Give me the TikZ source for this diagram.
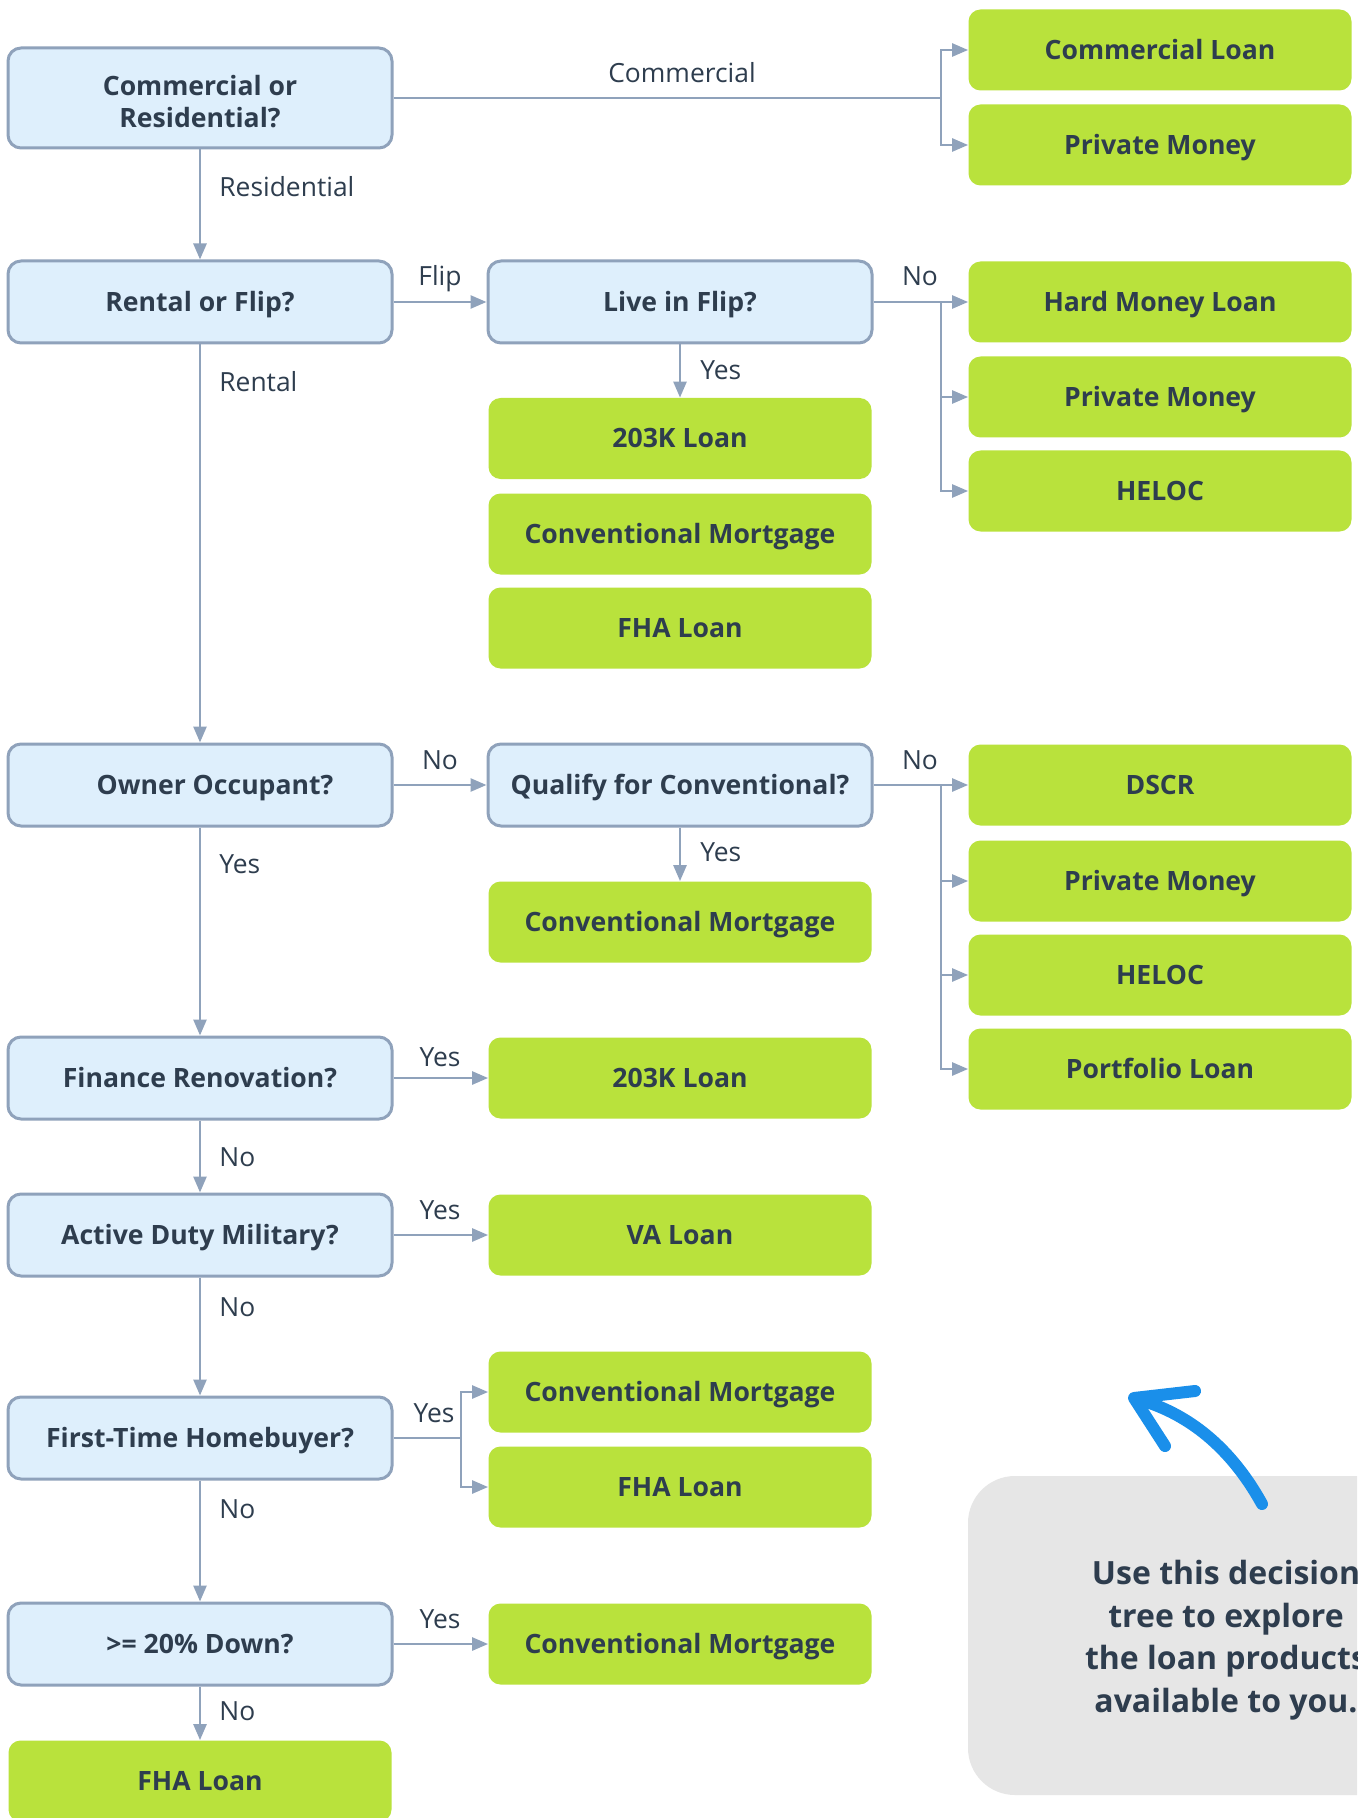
\documentclass[tikz,border=0pt]{standalone}
\usepackage{fontspec}
\setmainfont{Open Sans}
\usetikzlibrary{arrows.meta}
\definecolor{qfill}{HTML}{DEEFFC}
\definecolor{qline}{HTML}{8FA2BB}
\definecolor{afill}{HTML}{B9E23C}
\definecolor{txt}{HTML}{2E3D4E}
\definecolor{connc}{HTML}{8FA2BB}
\definecolor{callgray}{HTML}{E6E6E6}
\definecolor{bluearrow}{HTML}{1A8FEA}
\tikzset{
 qbase/.style={draw=qline, line width=1.5pt, fill=qfill, rounded corners=6.5pt, minimum width=192pt, minimum height=41pt, inner sep=0pt, text=txt, font=\bfseries\fontsize{13.3}{16}\selectfont, align=center},
 capc/.style={text height=9.5pt, text depth=0pt},
 qbox/.style={qbase, capc},
 abox/.style={fill=afill, rounded corners=6pt, minimum width=191.5pt, minimum height=40.5pt, inner sep=0pt, text=txt, font=\bfseries\fontsize{13.3}{16}\selectfont, capc},
 lbl/.style={text=txt, font=\fontsize{13.2}{16}\selectfont, inner sep=0pt},
 link/.style={draw=connc, line width=1.3pt},
 arr/.style={link, -{Triangle[length=8pt,width=6.5pt]}},
 callout/.style={fill=callgray, rounded corners=23.5pt},
 calltext/.style={text=txt, font=\bfseries\fontsize{16}{21.3}\selectfont, align=center, inner sep=0pt},
 handarrow/.style={draw=bluearrow, line width=6pt, line cap=round, line join=round},
}
\begin{document}
\begin{tikzpicture}[x=0.5pt,y=-0.5pt]
\useasboundingbox (0,0) rectangle (1357,1818);
\clip (0,0) rectangle (1357,1818);
\fill[white] (0,0) rectangle (1357,1818);

% callout
\fill[callout] (968,1476) rectangle (1484,1795);
\node[calltext] (note) at (1226,1640) {Use this decision\\tree to explore\\the loan products\\available to you.};
\draw[handarrow] (1262,1504) .. controls (1235,1455) and (1195,1415) .. (1137,1399);
\draw[handarrow] (1195,1391) -- (1134,1398) -- (1165,1446);

% left column questions
\node[qbase, minimum height=50pt] (q1) at (200,98) {\rule{0pt}{13.8pt}Commercial or\\Residential?};
\node[qbox] (q2) at (200,302) {Rental or Flip?};
\node[qbox] (q3) at (200,785) {\hspace*{15pt}Owner Occupant?};
\node[qbox] (q4) at (200,1078) {Finance Renovation?};
\node[qbox] (q5) at (200,1235) {Active Duty Military?};
\node[qbox] (q6) at (200,1438) {First-Time Homebuyer?};
\node[qbox] (q7) at (200,1644) {>= 20\% Down?};
\node[abox] (fha3) at (200,1781) {FHA Loan};

% middle column
\node[qbox] (live) at (680,302) {Live in Flip?};
\node[abox] (k1) at (680,438.5) {203K Loan};
\node[abox] (conv1) at (680,534) {Conventional Mortgage};
\node[abox] (fha1) at (680,628) {FHA Loan};
\node[qbox] (qual) at (680,785) {Qualify for Conventional?};
\node[abox] (conv2) at (680,922) {Conventional Mortgage};
\node[abox] (k2) at (680,1078) {203K Loan};
\node[abox] (va) at (680,1235) {VA Loan};
\node[abox] (conv3) at (680,1392) {Conventional Mortgage};
\node[abox] (fha2) at (680,1487) {FHA Loan};
\node[abox] (conv4) at (680,1644) {Conventional Mortgage};

% right column
\node[abox] (cl) at (1160,50) {Commercial Loan};
\node[abox] (pm1) at (1160,145) {Private Money};
\node[abox] (hm) at (1160,302) {Hard Money Loan};
\node[abox] (pm2) at (1160,397) {Private Money};
\node[abox] (he1) at (1160,491) {HELOC};
\node[abox] (dscr) at (1160,785) {DSCR};
\node[abox] (pm3) at (1160,881) {Private Money};
\node[abox] (he2) at (1160,975) {HELOC};
\node[abox] (port) at (1160,1069) {Portfolio Loan};

% branch points
\coordinate (b1) at (941,98);
\coordinate (b2) at (941,302);
\coordinate (b3) at (941,785);
\coordinate (b4) at (461,1438);

% connectors
\draw[link] (q1.east) -- (b1);
\draw[arr] (b1) |- (cl);
\draw[arr] (b1) |- (pm1);
\draw[arr] (q1) -- (q2);
\draw[arr] (q2) -- (live);
\draw[link] (live.east) -- (b2);
\draw[arr] (b2) -- (hm);
\draw[arr] (b2) |- (pm2);
\draw[arr] (b2) |- (he1);
\draw[arr] (live) -- (k1);
\draw[arr] (q2) -- (q3);
\draw[arr] (q3) -- (qual);
\draw[link] (qual.east) -- (b3);
\draw[arr] (b3) -- (dscr);
\draw[arr] (b3) |- (pm3);
\draw[arr] (b3) |- (he2);
\draw[arr] (b3) |- (port);
\draw[arr] (qual) -- (conv2);
\draw[arr] (q3) -- (q4);
\draw[arr] (q4) -- (k2);
\draw[arr] (q4) -- (q5);
\draw[arr] (q5) -- (va);
\draw[arr] (q5) -- (q6);
\draw[link] (q6.east) -- (b4);
\draw[arr] (b4) |- (conv3);
\draw[arr] (b4) |- (fha2);
\draw[arr] (q6) -- (q7);
\draw[arr] (q7) -- (conv4);
\draw[arr] (q7) -- (fha3);

% labels
\node[lbl, anchor=base] (lcom) at (682,82.5) {Commercial};
\node[lbl, anchor=base west] (lres) at (219,196.5) {Residential};
\node[lbl, anchor=base] (lflip) at (440,285.5) {Flip};
\node[lbl, anchor=base] (lno1) at (920,285.5) {No};
\node[lbl, anchor=base west] (lyes1) at (700,379.5) {Yes};
\node[lbl, anchor=base west] (lrent) at (219,391.5) {Rental};
\node[lbl, anchor=base] (lno2) at (440,769.5) {No};
\node[lbl, anchor=base] (lno3) at (920,769.5) {No};
\node[lbl, anchor=base west] (lyes2) at (700,861.5) {Yes};
\node[lbl, anchor=base west] (lyes3) at (219,873.5) {Yes};
\node[lbl, anchor=base] (lyes4) at (440,1066.5) {Yes};
\node[lbl, anchor=base west] (lno4) at (219,1166.5) {No};
\node[lbl, anchor=base] (lyes5) at (440,1219.5) {Yes};
\node[lbl, anchor=base west] (lno5) at (219,1316.5) {No};
\node[lbl, anchor=base] (lyes6) at (434,1422.5) {Yes};
\node[lbl, anchor=base west] (lno6) at (219,1518.5) {No};
\node[lbl, anchor=base] (lyes7) at (440,1628.5) {Yes};
\node[lbl, anchor=base west] (lno7) at (219,1720.5) {No};
\end{tikzpicture}
\end{document}
